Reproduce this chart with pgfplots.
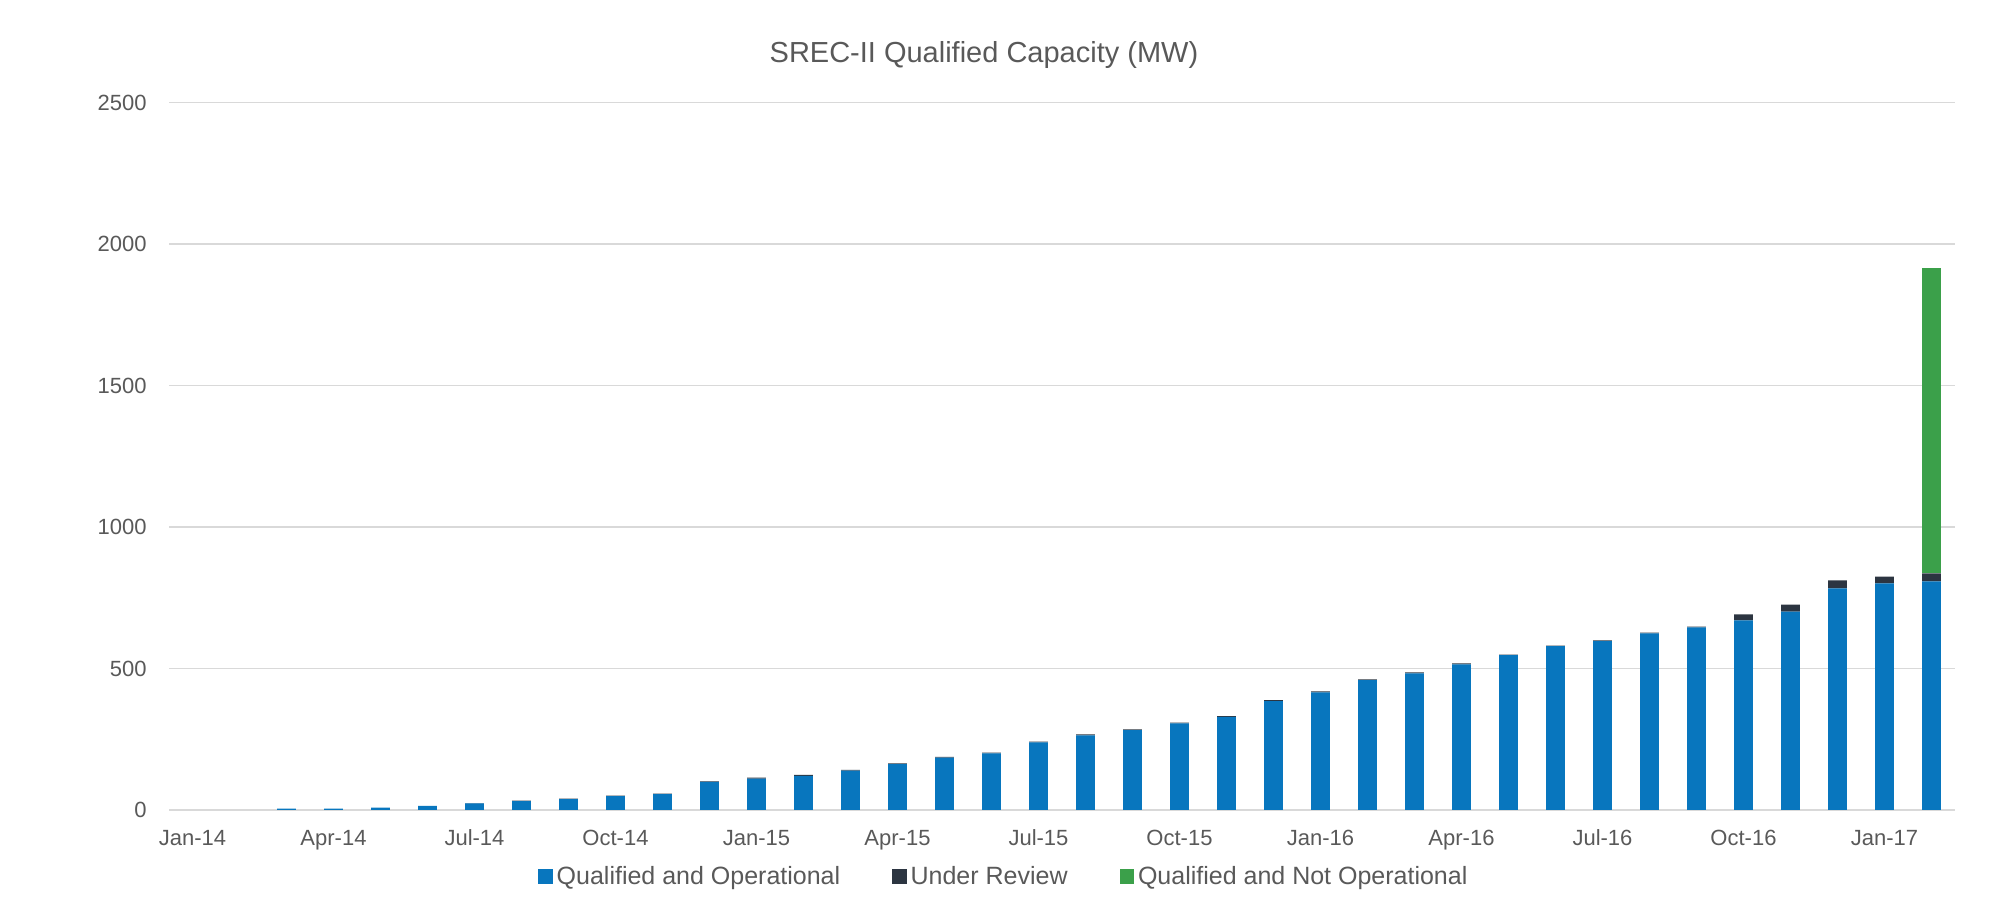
\documentclass[border=0pt]{standalone}
\usepackage{fontspec}
\setmainfont{Liberation Sans}
\usepackage{pgfplots}
\usepackage{pgfplotstable}
\pgfplotsset{compat=1.18}

\definecolor{qopblue}{HTML}{0876BE}
\definecolor{revdark}{HTML}{2C3541}
\definecolor{qnogreen}{HTML}{3BA04A}
\definecolor{gridgray}{HTML}{D9D9D9}
\definecolor{txtgray}{HTML}{595959}

% month index (0 = Jan-14), MW
\pgfplotstableread{
idx oper review notop
0   0   0  0
1   0   0  0
2   5   0  0
3   5   0  0
4   8   0  0
5   15  0  0
6   23  1  0
7   31  2  0
8   38  2  0
9   49  2  0
10  56  2  0
11  99  2  0
12  111 3  0
13  121 3  0
14  139 3  0
15  162 3  0
16  185 3  0
17  200 3  0
18  239 3  0
19  264 3  0
20  282 3  0
21  306 3  0
22  329 3  0
23  385 3  0
24  416 3  0
25  459 3  0
26  483 3  0
27  515 3  0
28  547 2  0
29  579 2  0
30  597 2  0
31  624 3  0
32  645 3  0
33  670 21 0
34  701 25 0
35  783 28 0
36  801 24 0
37  808 28 1078
}\srecdata

\begin{document}
\begin{tikzpicture}
\path[use as bounding box] (0,0) rectangle (996.5pt,458pt);
\node[font=\fontsize{14.5}{17}\selectfont, text=txtgray] at (492pt,430.5pt) {SREC-II Qualified Capacity (MW)};
\begin{axis}[
    at={(84.5pt,53pt)}, anchor=south west,
    width=893pt, height=353.75pt, scale only axis,
    ybar stacked, bar width=0.4,
    xmin=-0.5, xmax=37.5, ymin=0, ymax=2500,
    axis x line=bottom, axis y line=left,
    x axis line style={gridgray, line width=1pt, -},
    y axis line style={draw=none},
    xtick={0,3,...,36},
    xticklabels={Jan-14,Apr-14,Jul-14,Oct-14,Jan-15,Apr-15,Jul-15,Oct-15,Jan-16,Apr-16,Jul-16,Oct-16,Jan-17},
    major x tick style={draw=none},
    extra x ticks={-0.5,2.5,...,35.5},
    extra x tick labels={},
    extra x tick style={major tick length=4pt, tick align=outside, tick style={gridgray, line width=0.8pt}, grid=none},
    ytick={0,500,...,2500},
    major y tick style={draw=none},
    ymajorgrids, grid style={gridgray, line width=0.8pt},
    tick label style={font=\fontsize{11}{13}\selectfont, text=txtgray},
    yticklabel style={xshift=-5.5pt},
    xticklabel style={yshift=-4pt, text height=8pt, text depth=2pt},
    /pgf/number format/.cd, 1000 sep={}, assume math mode=true, /pgfplots/.cd,
    legend columns=3,
    legend style={at={(0.468,-0.094)}, anchor=center, draw=none, fill=none,
        font=\fontsize{12.5}{15}\selectfont, text=txtgray,
        /tikz/every odd column/.append style={column sep=0pt},
        /tikz/every even column/.append style={column sep=24pt}},
    legend cell align=left,
    legend image code/.code={\fill[#1] (0pt,-3.6pt) rectangle (7.2pt,3.6pt);},
]
\addplot[fill=qopblue, draw=none] table[x=idx, y=oper] {\srecdata};
\addplot[fill=revdark, draw=none] table[x=idx, y=review] {\srecdata};
\addplot[fill=qnogreen, draw=none] table[x=idx, y=notop] {\srecdata};
\legend{Qualified and Operational, Under Review, Qualified and Not Operational}
\end{axis}
\end{tikzpicture}
\end{document}
